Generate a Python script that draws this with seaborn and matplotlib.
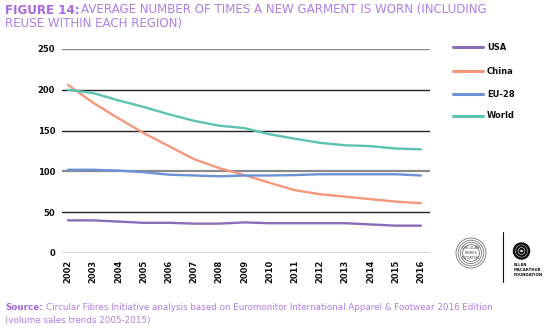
import matplotlib
matplotlib.use("Agg")
import matplotlib.pyplot as plt
import seaborn as sns
import pandas as pd
from matplotlib.patches import Circle
from matplotlib.lines import Line2D

years = list(range(2002, 2017))
usa = [40, 40, 38.5, 37, 37, 36, 36, 37.5, 36.5, 36.5, 36.5, 36.5, 35, 33.5, 33.5]
china = [206, 184, 165, 147, 131, 115, 104, 95.5, 86, 77, 72, 69, 66, 63, 61]
eu28 = [102, 102, 101, 99, 96, 95, 94, 95, 95, 95.5, 96.5, 96.5, 96.5, 96.5, 95]
world = [200, 196, 187, 179, 170, 162, 156, 153, 145.5, 140, 135, 132, 131, 128, 127]
series_names = ["USA", "China", "EU-28", "World"]
colors = ["#8a6db8", "#f4977c", "#6b92d6", "#5cc3b3"]
yticks = [0, 50, 100, 150, 200, 250]

df = pd.DataFrame({
    "year": years * 4,
    "value": usa + china + eu28 + world,
    "region": sum([[n] * len(years) for n in series_names], []),
})

sns.set_theme(style="white")
plt.rcParams["font.family"] = ["DejaVu Sans"]

fig = plt.figure(figsize=(5.51, 3.30), dpi=100)
ax = fig.add_axes([62/551, 1-253/330, (430-62)/551, (253-49)/330])

for y in yticks:
    col = "#8a8a8a" if y in (100, 250) else "#222222"
    lw = 1.6 if y == 100 else 1.0
    ax.axhline(y, color=col, lw=lw, zorder=0)

sns.lineplot(data=df, x="year", y="value", hue="region", hue_order=series_names,
             palette=colors, ax=ax, linewidth=1.7, legend=False)

ax.set_xlim(2001.76, 2016.36)
ax.set_ylim(0, 250)
ax.set_yticks(yticks)
ax.set_yticklabels([str(v) for v in yticks], fontsize=6, fontweight="bold", color="#111111")
ax.set_xticks(years)
ax.set_xticklabels([str(y) for y in years], rotation=90, fontsize=6, fontweight="bold", color="#111111")
ax.tick_params(axis="both", length=0, pad=5)
ax.set_xlabel("")
ax.set_ylabel("")
for s in ax.spines.values():
    s.set_visible(False)

# legend
leg_y = [47, 71, 94, 116]
for name, c, yy in zip(series_names, colors, leg_y):
    yf = 1 - yy/330
    fig.add_artist(Line2D([453/551, 483/551], [yf, yf], color=c, lw=2.2))
    fig.text(487/551, yf, name, fontsize=6, fontweight="bold", va="center", ha="left", color="#111111")

# title
purple = "#b07ee6"
fig.text(5/551, 1-10/330, "FIGURE 14:", fontsize=8.6, fontweight="bold", color="#a866e0", va="center", ha="left")
fig.text(81/551, 1-10/330, "AVERAGE NUMBER OF TIMES A NEW GARMENT IS WORN (INCLUDING",
         fontsize=8.6, color=purple, va="center", ha="left")
fig.text(5/551, 1-24/330, "REUSE WITHIN EACH REGION)", fontsize=8.6, color=purple, va="center", ha="left")

# source
fig.text(5/551, 1-308/330, "Source:", fontsize=6.3, fontweight="bold", color="#a866e0", va="center", ha="left")
fig.text(46/551, 1-308/330,
         "Circular Fibres Initiative analysis based on Euromonitor International Apparel & Footwear 2016 Edition",
         fontsize=6.3, color=purple, va="center", ha="left")
fig.text(5/551, 1-320/330, "(volume sales trends 2005-2015)", fontsize=6.3, color=purple, va="center", ha="left")

# logos
lax = fig.add_axes([440/551, 1-300/330, 111/551, 80/330])
lax.set_xlim(0, 111)
lax.set_ylim(80, 0)
lax.set_aspect("equal")
lax.axis("off")
for r in (15, 12.8, 10.6, 8.4):
    lax.add_patch(Circle((31, 33), r, fill=False, lw=0.6, ec="#777777"))
lax.text(31, 33, "CIRCULAR\nFIBRES\nINITIATIVE", fontsize=2.6, ha="center", va="center", color="#444444")
lax.plot([63, 63], [12, 62], color="#111111", lw=0.8)
for r, lw in ((7.5, 1.8), (4.8, 1.6), (2.2, 1.4)):
    lax.add_patch(Circle((81.5, 31), r, fill=False, lw=lw, ec="#111111"))
lax.text(74, 50, "ELLEN\nMACARTHUR\nFOUNDATION", fontsize=2.8, fontweight="bold", ha="left", va="center", color="#111111")

fig.savefig("out.png", dpi=100, facecolor="white")
